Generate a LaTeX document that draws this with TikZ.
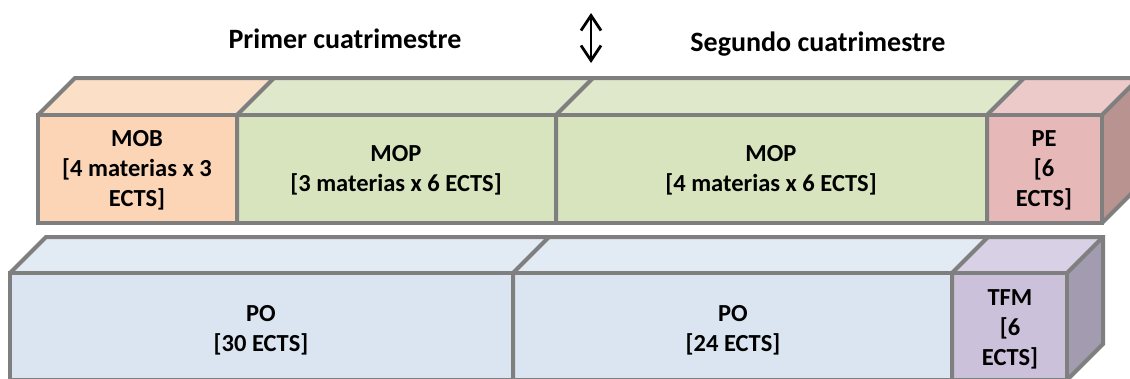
\documentclass[tikz,border=0pt]{standalone}
\usepackage{fontspec}
\setmainfont{Carlito}
\usetikzlibrary{arrows.meta}
\definecolor{boxgray}{HTML}{7F7F7F}
\definecolor{mobfront}{HTML}{FBD5B5}
\definecolor{mobtop}{HTML}{FCDFC7}
\definecolor{mopfront}{HTML}{D7E4BD}
\definecolor{moptop}{HTML}{DFE8CB}
\definecolor{pefront}{HTML}{E6B9B8}
\definecolor{petop}{HTML}{ECCACA}
\definecolor{peside}{HTML}{B8938F}
\definecolor{pofront}{HTML}{DBE5F1}
\definecolor{potop}{HTML}{E2EAF4}
\definecolor{tfmfront}{HTML}{CCC1DA}
\definecolor{tfmtop}{HTML}{D8D0E4}
\definecolor{tfmside}{HTML}{A39BAF}

\begin{document}
\begin{tikzpicture}[x=1pt,y=-1pt,
		edge/.style={draw=boxgray, line width=4pt, line join=miter},
		lbl/.style={font=\bfseries\fontsize{24.5}{30}\selectfont, align=center, text=black},
		head/.style={font=\bfseries\fontsize{28}{33}\selectfont, text=black, anchor=base}]
	\useasboundingbox (0,0) rectangle (1130,378);
	\clip (0,0) rectangle (1130,378);
	% upper row
	\fill[mobfront] (38,115) rectangle (237,223);
	\fill[mopfront] (237,115) rectangle (987,223);
	\fill[pefront] (987,115) rectangle (1102,223);
	\fill[mobtop] (38,115) -- (75,78) -- (274,78) -- (237,115) -- cycle;
	\fill[moptop] (237,115) -- (274,78) -- (1024,78) -- (987,115) -- cycle;
	\fill[petop] (987,115) -- (1024,78) -- (1139,78) -- (1102,115) -- cycle;
	\fill[peside] (1102,115) -- (1139,78) -- (1139,186) -- (1102,223) -- cycle;
	\draw[edge] (38,115) rectangle (1102,223);
	\draw[edge] (38,115) -- (75,78) -- (1139,78) -- (1139,186) -- (1102,223);
	\draw[edge] (1102,115) -- (1139,78);
	\foreach \xd in {237,556,987}
		\draw[edge] (\xd,223) -- (\xd,115) -- (\xd+37,78);
	% lower row
	\fill[pofront] (10,273) rectangle (952,380);
	\fill[tfmfront] (952,273) rectangle (1067,380);
	\fill[potop] (10,273) -- (46,237) -- (988,237) -- (952,273) -- cycle;
	\fill[tfmtop] (952,273) -- (988,237) -- (1103,237) -- (1067,273) -- cycle;
	\fill[tfmside] (1067,273) -- (1103,237) -- (1103,344) -- (1067,380) -- cycle;
	\draw[edge] (10,273) rectangle (1067,380);
	\draw[edge] (10,273) -- (46,237) -- (1103,237) -- (1103,344) -- (1067,380);
	\draw[edge] (1067,273) -- (1103,237);
	\foreach \xd in {513,952}
		\draw[edge] (\xd,380) -- (\xd,273) -- (\xd+36,237);
	% labels
	\node[lbl] (mob) at (137,170) {MOB\\{}[4 materias x 3\\ECTS]};
	\node[lbl] (mopa) at (396,170) {MOP\\{}[3 materias x 6 ECTS]};
	\node[lbl] (mopb) at (771,170) {MOP\\{}[4 materias x 6 ECTS]};
	\node[lbl] (pe) at (1044,170) {PE\\{}[6\\ECTS]};
	\node[lbl] (poa) at (261,330) {PO\\{}[30 ECTS]};
	\node[lbl] (pob) at (733,330) {PO\\{}[24 ECTS]};
	\node[lbl] (tfm) at (1010,329) {TFM\\{}[6\\ECTS]};
	\node[head] (primer) at (345,48) {Primer cuatrimestre};
	\node[head] (segundo) at (818,51) {Segundo cuatrimestre};
	\coordinate (arrtop) at (591,13);
	\coordinate (arrbot) at (591,63);
	\draw[{Straight Barb[length=15pt,width=20pt]}-{Straight Barb[length=15pt,width=20pt]}, line width=2.8pt] (arrtop) -- (arrbot);
\end{tikzpicture}
\end{document}
